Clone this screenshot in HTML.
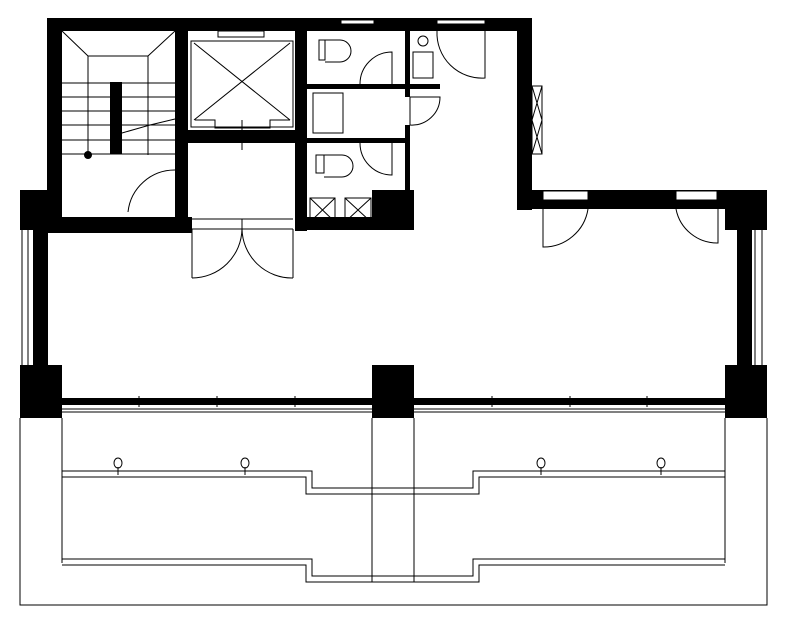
<!DOCTYPE html>
<html><head><meta charset="utf-8"><style>html,body{margin:0;padding:0;background:#fff}svg{display:block}</style></head>
<body>
<svg width="787" height="627" viewBox="0 0 787 627" xmlns="http://www.w3.org/2000/svg">
<g fill="#000">
<!-- top walls -->
<rect x="47" y="18" width="485" height="13"/>
<rect x="47" y="18" width="15" height="215"/>
<rect x="175" y="31" width="13" height="202"/>
<rect x="295" y="31" width="12" height="200"/>
<rect x="517" y="18" width="15" height="192"/>
<rect x="517" y="190" width="250" height="19"/>
<rect x="47" y="217" width="145" height="16"/>
<rect x="20" y="190" width="42" height="40"/>
<rect x="725" y="190" width="42" height="40"/>
<rect x="33" y="230" width="15" height="140"/>
<rect x="737" y="230" width="15" height="140"/>
<rect x="372" y="190" width="42" height="40"/>
<rect x="295" y="217" width="119" height="13"/>
<rect x="188" y="130" width="107" height="13"/>
<rect x="405" y="31" width="5" height="58"/>
<rect x="307" y="84" width="133" height="5"/>
<rect x="307" y="138" width="101" height="5"/>
<rect x="405" y="89" width="5" height="8"/>
<rect x="405" y="125" width="5" height="18"/>
<rect x="405" y="143" width="5" height="50"/>
<rect x="110" y="82" width="12" height="72"/>
<!-- bottom pillars -->
<rect x="20" y="365" width="42" height="53"/>
<rect x="372" y="365" width="42" height="53"/>
<rect x="725" y="365" width="42" height="53"/>
<rect x="62" y="398" width="310" height="7"/>
<rect x="414" y="398" width="311" height="7"/>
</g>
<g fill="#fff" stroke="#000" stroke-width="1">
<rect x="341" y="20" width="33" height="4"/>
<rect x="437" y="20" width="48" height="4"/>
<rect x="543" y="191" width="45" height="9"/>
<rect x="676" y="191" width="41" height="9"/>
<rect x="218" y="31" width="46" height="6"/>
</g>
<g fill="none" stroke="#000" stroke-width="1">
<!-- window lines -->
<line x1="22" y1="230" x2="22" y2="365"/><line x1="28" y1="230" x2="28" y2="365"/>
<line x1="755" y1="230" x2="755" y2="365"/><line x1="762" y1="230" x2="762" y2="365"/>
<!-- vent right -->
<rect x="532" y="86" width="10" height="68"/>
<path d="M532 86 L542 120 M542 86 L532 120 M532 120 L542 154 M542 120 L532 154"/>
<!-- stair -->
<path d="M62 31 L88 56 L148 56 L175 31 M88 56 L88 155 M148 56 L148 155"/>
<path d="M62 83 H175 M62 97 H175 M62 111 H175 M62 125 H175 M62 140 H175 M62 154 H175"/>
<path d="M122 133 L150 125 L175 119"/>
<!-- stair door -->
<path d="M175 170 H183 V214 H175 M128 212 A47 47 0 0 1 175 170"/>
<!-- elevator -->
<rect x="191" y="41" width="102" height="86"/>
<path d="M194 43 L290 120 M290 43 L194 120"/>
<path d="M195 120 H215 V128 H270 V120 H290"/>
<path d="M242 120 V150"/>
<!-- lobby double doors -->
<path d="M192 219 H293 M192 229 H293 M192 229 V278 M293 229 V278 M242 229 V219"/>
<path d="M192 278 A50 50 0 0 0 242 229 M293 278 A50 50 0 0 1 242 229"/>
<!-- toilets -->
<rect x="319" y="40" width="6" height="20"/><path d="M325 40 H340 A10 10 0 0 1 340 62 H325"/>
<rect x="316" y="155" width="8" height="18"/><path d="M324 155 H342 A10 10 0 0 1 342 177 H324"/>
<rect x="313" y="93" width="30" height="40"/>
<path d="M360 84 A32 32 0 0 1 392 52 V84 M360 143 A32 32 0 0 0 392 175 V143"/>
<path d="M410 97 V125 M410 125 A28 28 0 0 0 440 97 H410"/>
<rect x="413" y="52" width="20" height="26"/><circle cx="423" cy="41" r="5"/>
<path d="M437 31 A45 45 0 0 0 485 78 V31"/>
<!-- shafts -->
<rect x="310" y="198" width="25" height="24"/><path d="M310 198 L335 222 M335 198 L310 222"/>
<rect x="345" y="198" width="26" height="24"/><path d="M345 198 L371 222 M371 198 L345 222"/>
<!-- right doors -->
<path d="M543 209 V247 A45 45 0 0 0 588 209"/>
<path d="M718 209 V243 A42 42 0 0 1 676 209"/>
<!-- bottom -->
<path d="M20 418 V605 H767 V418"/>
<path d="M62 409 H372 M62 412 H372 M414 409 H725 M414 412 H725"/>
<path d="M139 396 V407 M217 396 V407 M295 396 V407 M492 396 V407 M570 396 V407 M647 396 V407"/>
<path d="M62 418 V563 M725 418 V563 M372 418 V582 M414 418 V582"/>
<path d="M62 471 H312 V488 H473 V471 H725 M62 477 H306 V494 H479 V477 H725"/>
<path d="M62 559 H312 V576 H473 V559 H725 M62 565 H306 V582 H479 V565 H725"/>
<path d="M118 467 V475 M245 467 V475 M541 467 V475 M661 467 V475"/>
<ellipse cx="118" cy="463" rx="4" ry="5"/><ellipse cx="245" cy="463" rx="4" ry="5"/>
<ellipse cx="541" cy="463" rx="4" ry="5"/><ellipse cx="661" cy="463" rx="4" ry="5"/>
</g>
<circle cx="88" cy="155" r="4" fill="#000"/>
</svg>
</body></html>
